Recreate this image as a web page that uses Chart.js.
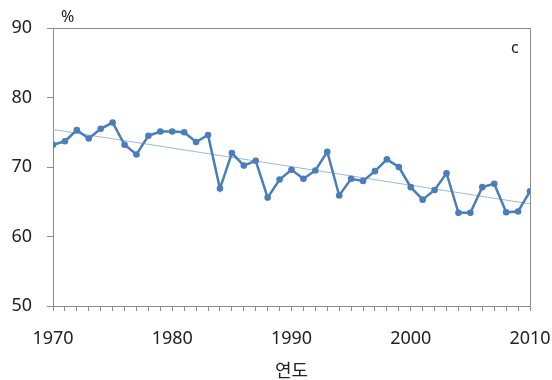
<!DOCTYPE html>
<html>
<head>
<meta charset="utf-8">
<script src="https://cdn.jsdelivr.net/npm/chart.js@4/dist/chart.umd.min.js"></script>
<style>
  html, body { margin: 0; padding: 0; background: #fff; }
  #wrap { width: 552px; height: 380px; }
</style>
</head>
<body>
<div id="wrap"><canvas id="chart"></canvas></div>
<script>
// years and values (%)
const years = [1970,1971,1972,1973,1974,1975,1976,1977,1978,1979,
               1980,1981,1982,1983,1984,1985,1986,1987,1988,1989,
               1990,1991,1992,1993,1994,1995,1996,1997,1998,1999,
               2000,2001,2002,2003,2004,2005,2006,2007,2008,2009,2010];
const values = [73.2,73.7,75.3,74.1,75.5,76.4,73.2,71.8,74.5,75.1,
                75.1,75.0,73.6,74.6,66.9,72.0,70.2,70.9,65.6,68.2,
                69.6,68.3,69.5,72.2,65.9,68.3,68.0,69.4,71.1,70.0,
                67.1,65.3,66.7,69.1,63.4,63.4,67.1,67.6,63.5,63.6,66.5];
const trendYears = [1970, 2010];
const trendValues = [75.4, 64.7];
const xTicks = [1970, 1980, 1990, 2000, 2010];
const yTicks = [50, 60, 70, 80, 90];

const axisGray = '#8c8c8c';
const textFont = "'Noto Sans', 'Noto Sans CJK KR', sans-serif";

// frame on top/right + the "%" and "c" notes
const framePlugin = {
  id: 'frame',
  afterDraw(chart) {
    const { ctx, chartArea: a } = chart;
    ctx.save();
    ctx.strokeStyle = axisGray;
    ctx.lineWidth = 1;
    ctx.beginPath();
    ctx.moveTo(a.left, a.top + 0.5);
    ctx.lineTo(a.right + 0.5, a.top + 0.5);
    ctx.lineTo(a.right + 0.5, a.bottom);
    ctx.stroke();
    ctx.fillStyle = '#222';
    ctx.font = '16px ' + textFont;
    ctx.textAlign = 'left';
    ctx.textBaseline = 'middle';
    ctx.fillText('%', a.left + 8, a.top - 11);
    ctx.fillText('c', a.right - 19, a.top + 20);
    ctx.restore();
  }
};

new Chart(document.getElementById('chart'), {
  type: 'line',
  data: {
    datasets: [
      {
        data: years.map((y, i) => ({ x: y, y: values[i] })),
        borderColor: '#4a7ebb',
        backgroundColor: '#4a7ebb',
        borderWidth: 2.5,
        pointRadius: 3.3,
        pointBorderWidth: 0,
        tension: 0,
        order: 1
      },
      {
        data: trendYears.map((y, i) => ({ x: y, y: trendValues[i] })),
        borderColor: '#9db7dc',
        borderWidth: 1,
        pointRadius: 0,
        tension: 0,
        order: 2
      }
    ]
  },
  options: {
    responsive: true,
    maintainAspectRatio: false,
    animation: false,
    layout: { padding: { top: 28, right: 0, left: 0, bottom: 0 } },
    plugins: { legend: { display: false }, tooltip: { enabled: false } },
    scales: {
      x: {
        type: 'linear',
        min: 1970,
        max: 2010,
        afterFit: s => { s.height = 74; s.paddingRight = 22; },
        afterBuildTicks: s => { s.ticks = years.map(v => ({ value: v })); },
        ticks: {
          autoSkip: false,
          maxRotation: 0,
          padding: 17,
          color: '#222',
          font: { size: 18, family: textFont },
          callback: v => xTicks.includes(v) ? String(v) : ''
        },
        grid: { drawOnChartArea: false, tickLength: 5, color: axisGray },
        border: { color: axisGray },
        title: {
          display: true,
          text: '연도',
          color: '#222',
          font: { size: 18, family: textFont },
          padding: { top: 4, bottom: -3 }
        }
      },
      y: {
        min: 50,
        max: 90,
        afterFit: s => { s.width = 53; },
        afterBuildTicks: s => { s.ticks = yTicks.map(v => ({ value: v })); },
        ticks: {
          padding: 15,
          color: '#222',
          font: { size: 18, family: textFont }
        },
        grid: { drawOnChartArea: false, tickLength: 6, color: axisGray },
        border: { color: axisGray }
      }
    }
  },
  plugins: [framePlugin]
});
</script>
</body>
</html>
